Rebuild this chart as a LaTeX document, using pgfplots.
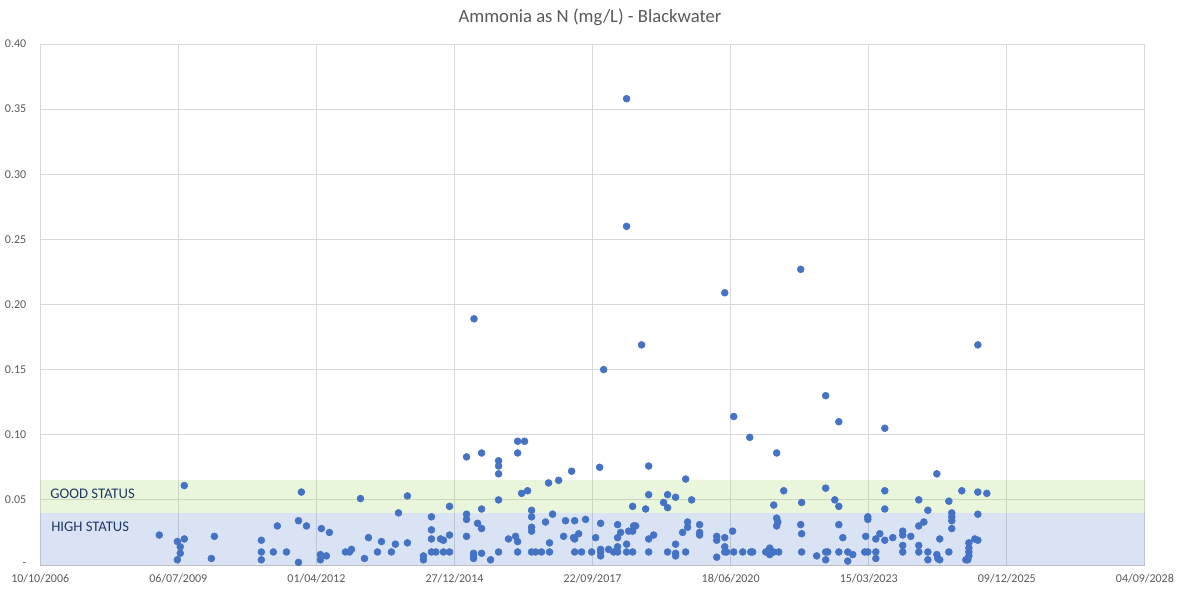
\documentclass[border=0pt]{standalone}
\usepackage{pgfplots}
\pgfplotsset{compat=1.18}
\usepackage{fontspec}
\setmainfont{Carlito}
\definecolor{ptblue}{HTML}{4472C4}
\definecolor{bandgreen}{HTML}{92D050}
\definecolor{bandblue}{HTML}{4472C4}
\definecolor{txtgray}{HTML}{595959}
\definecolor{gridgray}{HTML}{D9D9D9}
\definecolor{axisgray}{HTML}{BFBFBF}
\definecolor{navy}{HTML}{1F3864}

\begin{document}
\begin{tikzpicture}
\path[use as bounding box] (0,0) rectangle (885.75pt,442.5pt);
\node[font=\fontsize{14}{16}\selectfont, text=txtgray] at (442.5pt,429.75pt) {Ammonia as N (mg/L) - Blackwater};
\begin{axis}[
  at={(30.2pt,18.75pt)}, anchor=south west,
  scale only axis, width=828.5pt, height=390.75pt,
  xmin=39000, xmax=47000, ymin=0, ymax=0.4,
  scaled x ticks=false, scaled y ticks=false,
  xtick={39000,40000,41000,42000,43000,44000,45000,46000,47000},
  xticklabels={10/10/2006,06/07/2009,01/04/2012,27/12/2014,22/09/2017,18/06/2020,15/03/2023,09/12/2025,04/09/2028},
  ytick={0,0.05,0.1,0.15,0.2,0.25,0.3,0.35,0.4},
  yticklabels={-\hspace{0.55em},0.05,0.10,0.15,0.20,0.25,0.30,0.35,0.40},
  major tick length=0pt,
  grid=major,
  major grid style={draw=gridgray, line width=0.75pt},
  axis x line*=bottom, axis y line*=left,
  x axis line style={-, draw=axisgray, line width=0.75pt},
  y axis line style={draw=none},
  tick label style={font=\fontsize{9}{10}\selectfont, text=txtgray},
  yticklabel style={xshift=-7pt},
  xticklabel style={yshift=-3pt},
  clip=false,
]
\addplot[only marks, mark=*, mark size=2.6pt, mark options={draw=ptblue, fill=ptblue}] coordinates {
(39862,0.023) (39993,0.018) (39993,0.004) (40014,0.014) (40014,0.009) (40043,0.061) (40043,0.020)
(40239,0.005) (40261,0.022) (40601,0.019) (40601,0.010) (40601,0.004) (40688,0.010) (40717,0.030)
(40783,0.010) (40870,0.034) (40870,0.002) (40891,0.056) (40928,0.030) (41029,0.008) (41029,0.004)
(41036,0.028) (41072,0.007) (41094,0.025) (41210,0.010) (41239,0.010) (41254,0.012) (41319,0.051)
(41348,0.005) (41377,0.021) (41442,0.010) (41471,0.018) (41543,0.010) (41572,0.016) (41594,0.040)
(41659,0.053) (41659,0.017) (41775,0.007) (41775,0.004) (41833,0.037) (41833,0.027) (41833,0.020)
(41833,0.010) (41865,0.010) (41899,0.020) (41920,0.019) (41920,0.010) (41964,0.045) (41964,0.023)
(41964,0.010) (42087,0.083) (42087,0.039) (42087,0.035) (42087,0.022) (42138,0.009) (42138,0.007)
(42138,0.005) (42141,0.189) (42167,0.032) (42196,0.086) (42196,0.043) (42196,0.028) (42196,0.009)
(42261,0.004) (42319,0.080) (42319,0.076) (42319,0.070) (42319,0.050) (42319,0.010) (42391,0.020)
(42442,0.022) (42457,0.095) (42507,0.095) (42457,0.086) (42457,0.018) (42457,0.010) (42486,0.055)
(42529,0.057) (42558,0.042) (42558,0.037) (42558,0.029) (42558,0.026) (42558,0.010) (42587,0.010)
(42630,0.010) (42688,0.010) (42659,0.033) (42681,0.063) (42688,0.017) (42710,0.039) (42754,0.065)
(42790,0.022) (42804,0.034) (42848,0.072) (42862,0.021) (42870,0.034) (42870,0.020) (42870,0.010)
(42899,0.024) (42920,0.010) (42949,0.035) (42993,0.010) (43022,0.021) (43051,0.075) (43058,0.032)
(43058,0.012) (43058,0.010) (43058,0.007) (43080,0.150) (43116,0.012) (43152,0.010) (43181,0.010)
(43181,0.031) (43181,0.021) (43181,0.014) (43203,0.025) (43246,0.016) (43246,0.010) (43246,0.358)
(43246,0.260) (43261,0.026) (43290,0.026) (43290,0.010) (43297,0.030) (43312,0.030) (43290,0.045)
(43355,0.169) (43384,0.043) (43406,0.076) (43406,0.054) (43406,0.020) (43406,0.010) (43442,0.023)
(43514,0.048) (43543,0.054) (43543,0.044) (43543,0.010) (43601,0.052) (43601,0.016) (43601,0.009)
(43601,0.007) (43652,0.025) (43674,0.066) (43674,0.010) (43688,0.033) (43688,0.029) (43717,0.050)
(43775,0.031) (43775,0.025) (43775,0.023) (43899,0.022) (43899,0.019) (43899,0.006) (43957,0.209)
(43957,0.021) (43957,0.014) (43957,0.010) (43971,0.010) (44014,0.026) (44022,0.010) (44022,0.114)
(44087,0.010) (44138,0.098) (44145,0.010) (44159,0.010) (44254,0.010) (44283,0.013) (44283,0.008)
(44312,0.010) (44348,0.010) (44312,0.046) (44333,0.086) (44333,0.036) (44341,0.033) (44333,0.030)
(44384,0.057) (44507,0.227) (44514,0.048) (44507,0.031) (44514,0.024) (44514,0.010) (44623,0.007)
(44688,0.010) (44703,0.010) (44688,0.004) (44688,0.059) (44688,0.130) (44754,0.050) (44783,0.045)
(44783,0.031) (44783,0.010) (44783,0.110) (44812,0.021) (44848,0.010) (44848,0.003) (44884,0.008)
(44978,0.022) (44971,0.010) (44993,0.010) (44993,0.037) (44993,0.035) (45051,0.020) (45051,0.010)
(45051,0.005) (45080,0.024) (45116,0.105) (45116,0.057) (45116,0.043) (45116,0.019) (45174,0.021)
(45246,0.026) (45246,0.023) (45246,0.015) (45246,0.010) (45304,0.022) (45362,0.050) (45362,0.030)
(45399,0.033) (45362,0.015) (45362,0.010) (45428,0.042) (45428,0.010) (45428,0.004) (45493,0.070)
(45493,0.008) (45500,0.005) (45514,0.004) (45514,0.020) (45580,0.049) (45580,0.010) (45601,0.040)
(45601,0.037) (45601,0.034) (45601,0.028) (45674,0.057) (45725,0.017) (45725,0.013) (45725,0.010)
(45725,0.007) (45717,0.004) (45703,0.004) (45768,0.020) (45790,0.019) (45790,0.039) (45790,0.056)
(45790,0.169) (45855,0.055)
};
\addplot[draw=none, fill=bandblue, fill opacity=0.2] coordinates {(39000,0) (47000,0) (47000,0.04) (39000,0.04)} -- cycle;
\addplot[draw=none, fill=bandgreen, fill opacity=0.2] coordinates {(39000,0.04) (47000,0.04) (47000,0.065) (39000,0.065)} -- cycle;
\node[anchor=west, inner sep=0pt, text=navy, font=\fontsize{11}{12}\selectfont] at (axis cs:39072,0.0545) {GOOD STATUS};
\node[anchor=west, inner sep=0pt, text=navy, font=\fontsize{11}{12}\selectfont] at (axis cs:39078,0.0292) {HIGH STATUS};
\end{axis}
\end{tikzpicture}
\end{document}
